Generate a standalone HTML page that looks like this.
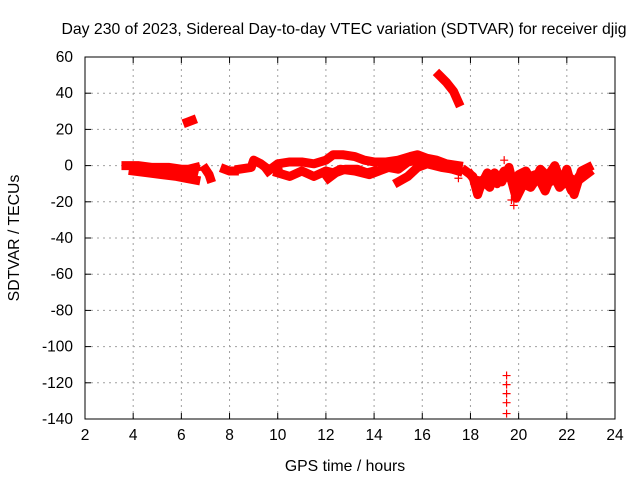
<!DOCTYPE html>
<html><head><meta charset="utf-8"><style>
body{margin:0;background:#fff}
svg{display:block;font-family:"Liberation Sans",sans-serif}
</style></head><body>
<svg id="chart" width="640" height="480">
<rect width="640" height="480" fill="#fff"/>
<text x="344" y="34" font-size="15.8" text-anchor="middle">Day 230 of 2023, Sidereal Day-to-day VTEC variation (SDTVAR) for receiver djig</text>
<text x="345" y="471" font-size="15.8" text-anchor="middle">GPS time / hours</text>
<text transform="translate(19,238) rotate(-90)" font-size="15.8" text-anchor="middle">SDTVAR / TECUs</text>
<g id="grid"></g><g id="marks"></g><g id="axes"></g>
</svg>
<script>
const xTicks=[2,4,6,8,10,12,14,16,18,20,22,24];
const yTicks=[60,40,20,0,-20,-40,-60,-80,-100,-120,-140];
// band tracks: arrays of [hour, value]
const trackA1=[[3.7,0],[4.2,0],[4.8,-1],[5.5,-1],[6,-2],[6.3,-2],[6.6,-1]];
const trackA2=[[4,-3],[4.6,-4],[5.2,-5],[5.8,-6],[6.2,-7],[6.6,-8]];
const trackA3=[[4.3,-2],[5,-3],[5.6,-3],[6.2,-4],[6.5,-5]];
const trackB=[[7.0,-2],[7.15,-5],[7.2,-7]];
const trackC=[[7.8,-2],[8.0,-3],[8.2,-3]];
const trackD=[[8.4,-2],[8.9,-1],[9.0,3],[9.3,1],[9.6,-2],[10,-1]];
const trackE=[[9.6,-3],[10,1],[10.5,2],[11,2],[11.5,1],[12,3],[12.3,6],[12.7,6],[13.2,5],[13.6,3],[14,2],[14.5,2],[15,3],[15.5,5],[15.8,6],[16.2,4],[16.6,3],[17,1],[17.5,0]];
const trackF=[[10,-4],[10.5,-6],[11,-3],[11.5,-6],[12,-3],[12.3,-4],[12.6,-2],[13.2,-3],[13.8,-5],[14.2,-3],[14.6,-1],[15,-2],[15.4,2],[15.8,3],[16.2,1],[16.8,-1],[17.3,-2]];
const trackG=[[12.1,-7],[12.4,-4],[12.8,-2],[13.3,-2],[13.7,-4],[14,-3]];
const trackH=[[15,-9],[15.4,-6],[15.8,-1],[16.4,2],[17,-1],[17.5,-3]];
const trackI=[[17.8,-3],[18.1,-6],[18.3,-16],[18.5,-8],[18.8,-12],[19,-4],[19.3,-9],[19.6,-1],[19.8,-12],[20,-5],[20.3,-3],[20.6,-10],[20.9,-2],[21.2,-6],[21.5,0],[21.8,-10],[22,-2],[22.3,-16],[22.6,-3],[22.9,-1]];
const trackJ=[[18,-5],[18.4,-12],[18.7,-4],[19.1,-10],[19.4,-3],[19.7,-8],[19.9,-18],[20.2,-10],[20.5,-12],[20.8,-6],[21.1,-14],[21.4,-4],[21.7,-12],[22,-8],[22.2,-14],[22.5,-6],[22.8,-3]];
const trackM=[[18.2,-8],[18.6,-9],[19,-7],[19.5,-6],[20.1,-8],[20.7,-5],[21.3,-9],[21.9,-5],[22.4,-9],[22.9,-4]];
const trackK=[[16.7,50],[17.0,46],[17.3,41],[17.5,35]];
const trackL=[[6.25,24],[6.45,25]];
const bands=[trackA1,trackA2,trackA3,trackB,trackC,trackD,trackE,trackF,trackG,trackH,trackI,trackJ,trackM,trackK,trackL];
const outX=[19.5,19.5,19.5,19.5,19.5,19.8,19.7,19.4,17.5,20.0];
const outY=[-116,-121,-126,-131,-137,-22,-19,3,-7,-14];
const L=85,R=615,T=57,B=419;
const sx=h=>L+(h-2)*(R-L)/22;
const sy=v=>T+(60-v)*(B-T)/200;
const NS='http://www.w3.org/2000/svg';
function mk(tag,attrs,parent){const e=document.createElementNS(NS,tag);for(const k in attrs)e.setAttribute(k,attrs[k]);parent.appendChild(e);return e;}
const grid=document.getElementById('grid'),axes=document.getElementById('axes'),marks=document.getElementById('marks');
xTicks.forEach(t=>{const x=sx(t);
 if(t>2&&t<24){const g=mk('line',{x1:x,x2:x,y1:T,y2:B,stroke:'#a0a0a0','stroke-dasharray':'2,4'},grid);
 
 }
 mk('line',{x1:x,x2:x,y1:B,y2:B-6,stroke:'#000'},axes);mk('line',{x1:x,x2:x,y1:T,y2:T+6,stroke:'#000'},axes);
 const tx=mk('text',{x:x,y:B+21,'font-size':15.5,'text-anchor':'middle'},axes);tx.textContent=t;
 
 });
yTicks.forEach(t=>{const y=sy(t);
 if(t<60&&t>-140){const g=mk('line',{x1:L,x2:R,y1:y,y2:y,stroke:'#a0a0a0','stroke-dasharray':'2,4'},grid);
 
 }
 mk('line',{x1:L,x2:L+6,y1:y,y2:y,stroke:'#000'},axes);mk('line',{x1:R,x2:R-6,y1:y,y2:y,stroke:'#000'},axes);
 const tx=mk('text',{x:L-12,y:y+5,'font-size':15.5,'text-anchor':'end'},axes);tx.textContent=t;
 
 });
const frame=mk('rect',{x:L,y:T,width:R-L,height:B-T,fill:'none',stroke:'#000'},axes);


bands.forEach(tr=>{
 const p=mk('polyline',{points:tr.map(d=>sx(d[0])+','+sy(d[1])).join(' '),fill:'none',stroke:'#f00','stroke-width':9,'stroke-linejoin':'round','stroke-linecap':'square'},marks);
 
 
 tr.forEach(d=>{const x=sx(d[0]),y=sy(d[1]);
  const m=mk('path',{d:`M${x-4},${y}h8M${x},${y-4}v8`,stroke:'#f00','stroke-width':1.2},marks);
  
  });
});
outX.forEach((h,i)=>{const x=sx(h),y=sy(outY[i]);
 const m=mk('path',{d:`M${x-4},${y}h8M${x},${y-4}v8`,stroke:'#f00','stroke-width':1.2},marks);
 
 });
</script>
</body></html>
